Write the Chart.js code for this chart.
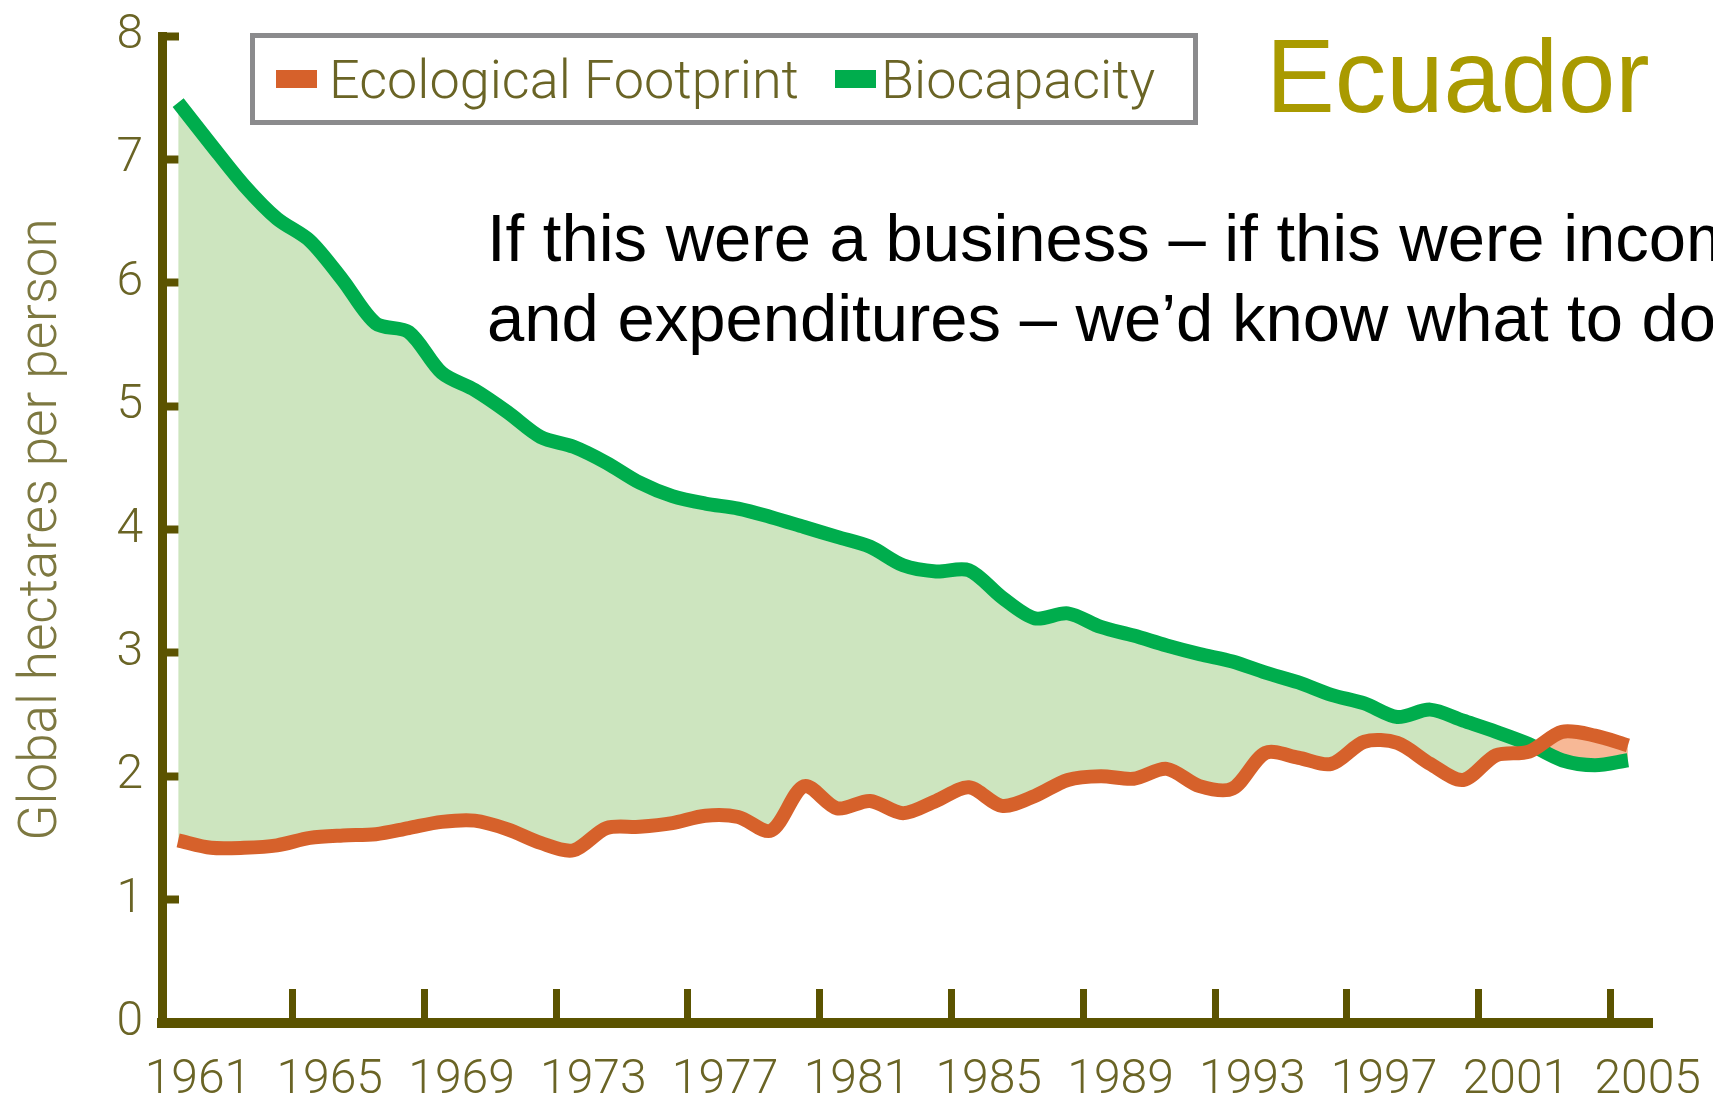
<!DOCTYPE html>
<html>
<head>
<meta charset="utf-8">
<title>Ecuador - Ecological Footprint and Biocapacity</title>
<script src="https://cdn.jsdelivr.net/npm/chart.js@4.4.1/dist/chart.umd.min.js"></script>
<style>
  html, body { margin: 0; padding: 0; background: #fff; overflow: hidden; }
  #wrap { position: relative; width: 1713px; height: 1096px; overflow: hidden; }
  #chart { position: absolute; left: 0; top: 0; }
  #legend {
    position: absolute; left: 250px; top: 33px; width: 948px; height: 92px;
    box-sizing: border-box; border: 5px solid #8b8b8d; background: #fff;
    font-family: Roboto, sans-serif; font-weight: 300; font-size: 54px;
    color: #6a6425; white-space: nowrap;
  }
  #legend .item { position: absolute; top: 0; height: 82px; display: flex; align-items: center; }
  #legend .swatch { display: inline-block; width: 41px; height: 18px; }
  #country {
    position: absolute; left: 1266px; top: 25px;
    font-family: "Liberation Sans", Arial, sans-serif; font-size: 103px; line-height: 103px;
    color: #a99a00; white-space: nowrap;
  }
  #quote {
    position: absolute; left: 487px; top: 198px;
    font-family: "Liberation Sans", Arial, sans-serif; font-size: 67px; line-height: 80px;
    color: #000; white-space: nowrap;
  }
</style>
</head>
<body>
<div id="wrap">
  <canvas id="chart" width="1713" height="1096"></canvas>
  <div id="legend"></div>
  <div id="country"></div>
  <div id="quote"></div>
</div>
<script>
// data for Ecuador
var years = [1961, 1962, 1963, 1964, 1965, 1966, 1967, 1968, 1969, 1970,
             1971, 1972, 1973, 1974, 1975, 1976, 1977, 1978, 1979, 1980,
             1981, 1982, 1983, 1984, 1985, 1986, 1987, 1988, 1989, 1990,
             1991, 1992, 1993, 1994, 1995, 1996, 1997, 1998, 1999, 2000,
             2001, 2002, 2003, 2004, 2005];

var footprint = [1.48, 1.42, 1.42, 1.44, 1.50, 1.52, 1.53, 1.58, 1.63, 1.64,
                 1.57, 1.46, 1.40, 1.58, 1.59, 1.62, 1.68, 1.67, 1.56, 1.92,
                 1.74, 1.80, 1.70, 1.80, 1.91, 1.76, 1.84, 1.97, 2.00, 1.98,
                 2.06, 1.92, 1.90, 2.19, 2.15, 2.10, 2.28, 2.27, 2.10, 1.97,
                 2.17, 2.20, 2.36, 2.33, 2.25];

var biocapacity = [7.46, 7.12, 6.79, 6.52, 6.34, 6.02, 5.67, 5.60, 5.27, 5.13,
                   4.95, 4.75, 4.67, 4.54, 4.38, 4.27, 4.21, 4.17, 4.10, 4.02,
                   3.94, 3.86, 3.71, 3.66, 3.67, 3.45, 3.28, 3.32, 3.21, 3.14,
                   3.06, 2.99, 2.93, 2.84, 2.76, 2.66, 2.59, 2.48, 2.54, 2.45,
                   2.36, 2.26, 2.13, 2.09, 2.13];

var seriesNames = ['Ecological Footprint', 'Biocapacity'];
var xLabelYears = [1961, 1965, 1969, 1973, 1977, 1981, 1985, 1989, 1993, 1997, 2001, 2005];
var xMarkYears = [1965, 1969, 1973, 1977, 1981, 1985, 1989, 1993, 1997, 2001, 2005];
var yTicks = [0, 1, 2, 3, 4, 5, 6, 7, 8];
var yTitle = 'Global hectares per person';
var countryName = 'Ecuador';
var quoteLines = ['If this were a business \u2013 if this were income',
                  'and expenditures \u2013 we\u2019d know what to do.'];

var seriesColors = ['#d6612b', '#00ad4d'];
var surplusFill = '#cde5bf';
var deficitFill = '#f7b896';
var axisColor = '#5b5300';
var textColor = '#6a6425';
var tickFont = {family: 'Roboto', weight: 300, size: 48, lineHeight: 1.2};

function points(values) {
    return years.map(function (y, i) { return {x: y, y: values[i]}; });
}

// html overlays: legend, country name, quote
var legend = document.getElementById('legend');
var itemLeft = [21, 580];
var swatchGap = [12, 5];
seriesNames.forEach(function (name, i) {
    var item = document.createElement('div');
    item.className = 'item';
    item.style.left = itemLeft[i] + 'px';
    item.innerHTML = '<span class="swatch" style="background:' + seriesColors[i] +
        ';margin-right:' + swatchGap[i] + 'px"></span>' + name;
    legend.appendChild(item);
});
document.getElementById('country').textContent = countryName;
document.getElementById('quote').innerHTML = quoteLines.join('<br>');

var xMin = 1960.51, xMax = 2005.73;

new Chart(document.getElementById('chart').getContext('2d'), {
    type: 'line',
    data: {
        datasets: [{
            label: seriesNames[0],
            data: points(footprint),
            xAxisID: 'x',
            borderColor: seriesColors[0],
            borderWidth: 14,
            pointRadius: 0,
            tension: 0.3,
            fill: false
        }, {
            label: seriesNames[1],
            data: points(biocapacity),
            xAxisID: 'x',
            borderColor: seriesColors[1],
            borderWidth: 14,
            pointRadius: 0,
            tension: 0.3,
            fill: {target: 0, above: surplusFill, below: deficitFill}
        }]
    },
    options: {
        responsive: false,
        animation: false,
        devicePixelRatio: 1,
        layout: {padding: {left: 0, top: 36, right: 61, bottom: 0}},
        plugins: {legend: {display: false}, tooltip: {enabled: false}},
        scales: {
            x: {
                type: 'linear', axis: 'x', position: 'bottom', weight: 0,
                min: xMin, max: xMax,
                afterBuildTicks: function (s) {
                    s.ticks = xMarkYears.map(function (v) { return {value: v - 0.53}; });
                },
                afterFit: function (s) { s.height = 0; s.paddingLeft = 0; s.paddingRight = 0; },
                ticks: {display: false, autoSkip: false},
                grid: {drawOnChartArea: false, drawTicks: true, tickLength: -34, tickWidth: 7, tickColor: axisColor},
                border: {display: true, width: 10, color: axisColor}
            },
            xl: {
                type: 'linear', axis: 'x', position: 'bottom', weight: 1,
                min: xMin, max: xMax,
                afterBuildTicks: function (s) {
                    s.ticks = xLabelYears.map(function (v) { return {value: v + 0.6}; });
                },
                afterFit: function (s) { s.height = 73; s.paddingLeft = 0; s.paddingRight = 0; },
                ticks: {
                    autoSkip: false, maxRotation: 0, padding: 21,
                    font: tickFont, color: textColor,
                    callback: function (v, i) { return String(xLabelYears[i]); }
                },
                grid: {display: false},
                border: {display: false}
            },
            y: {
                min: 0, max: 8,
                afterBuildTicks: function (s) {
                    s.ticks = yTicks.map(function (v) { return {value: v}; });
                },
                afterFit: function (s) { s.width = 162; s.paddingTop = 0; s.paddingBottom = 0; },
                ticks: {font: tickFont, color: textColor, padding: 36},
                grid: {drawOnChartArea: false, drawTicks: true, tickLength: -17, tickWidth: 8, tickColor: axisColor},
                border: {display: true, width: 9, color: axisColor},
                title: {
                    display: true, text: yTitle, color: '#7d7840', padding: 16,
                    font: {family: 'Roboto', weight: 300, size: 53, lineHeight: 1}
                }
            }
        }
    }
});
</script>
</body>
</html>
